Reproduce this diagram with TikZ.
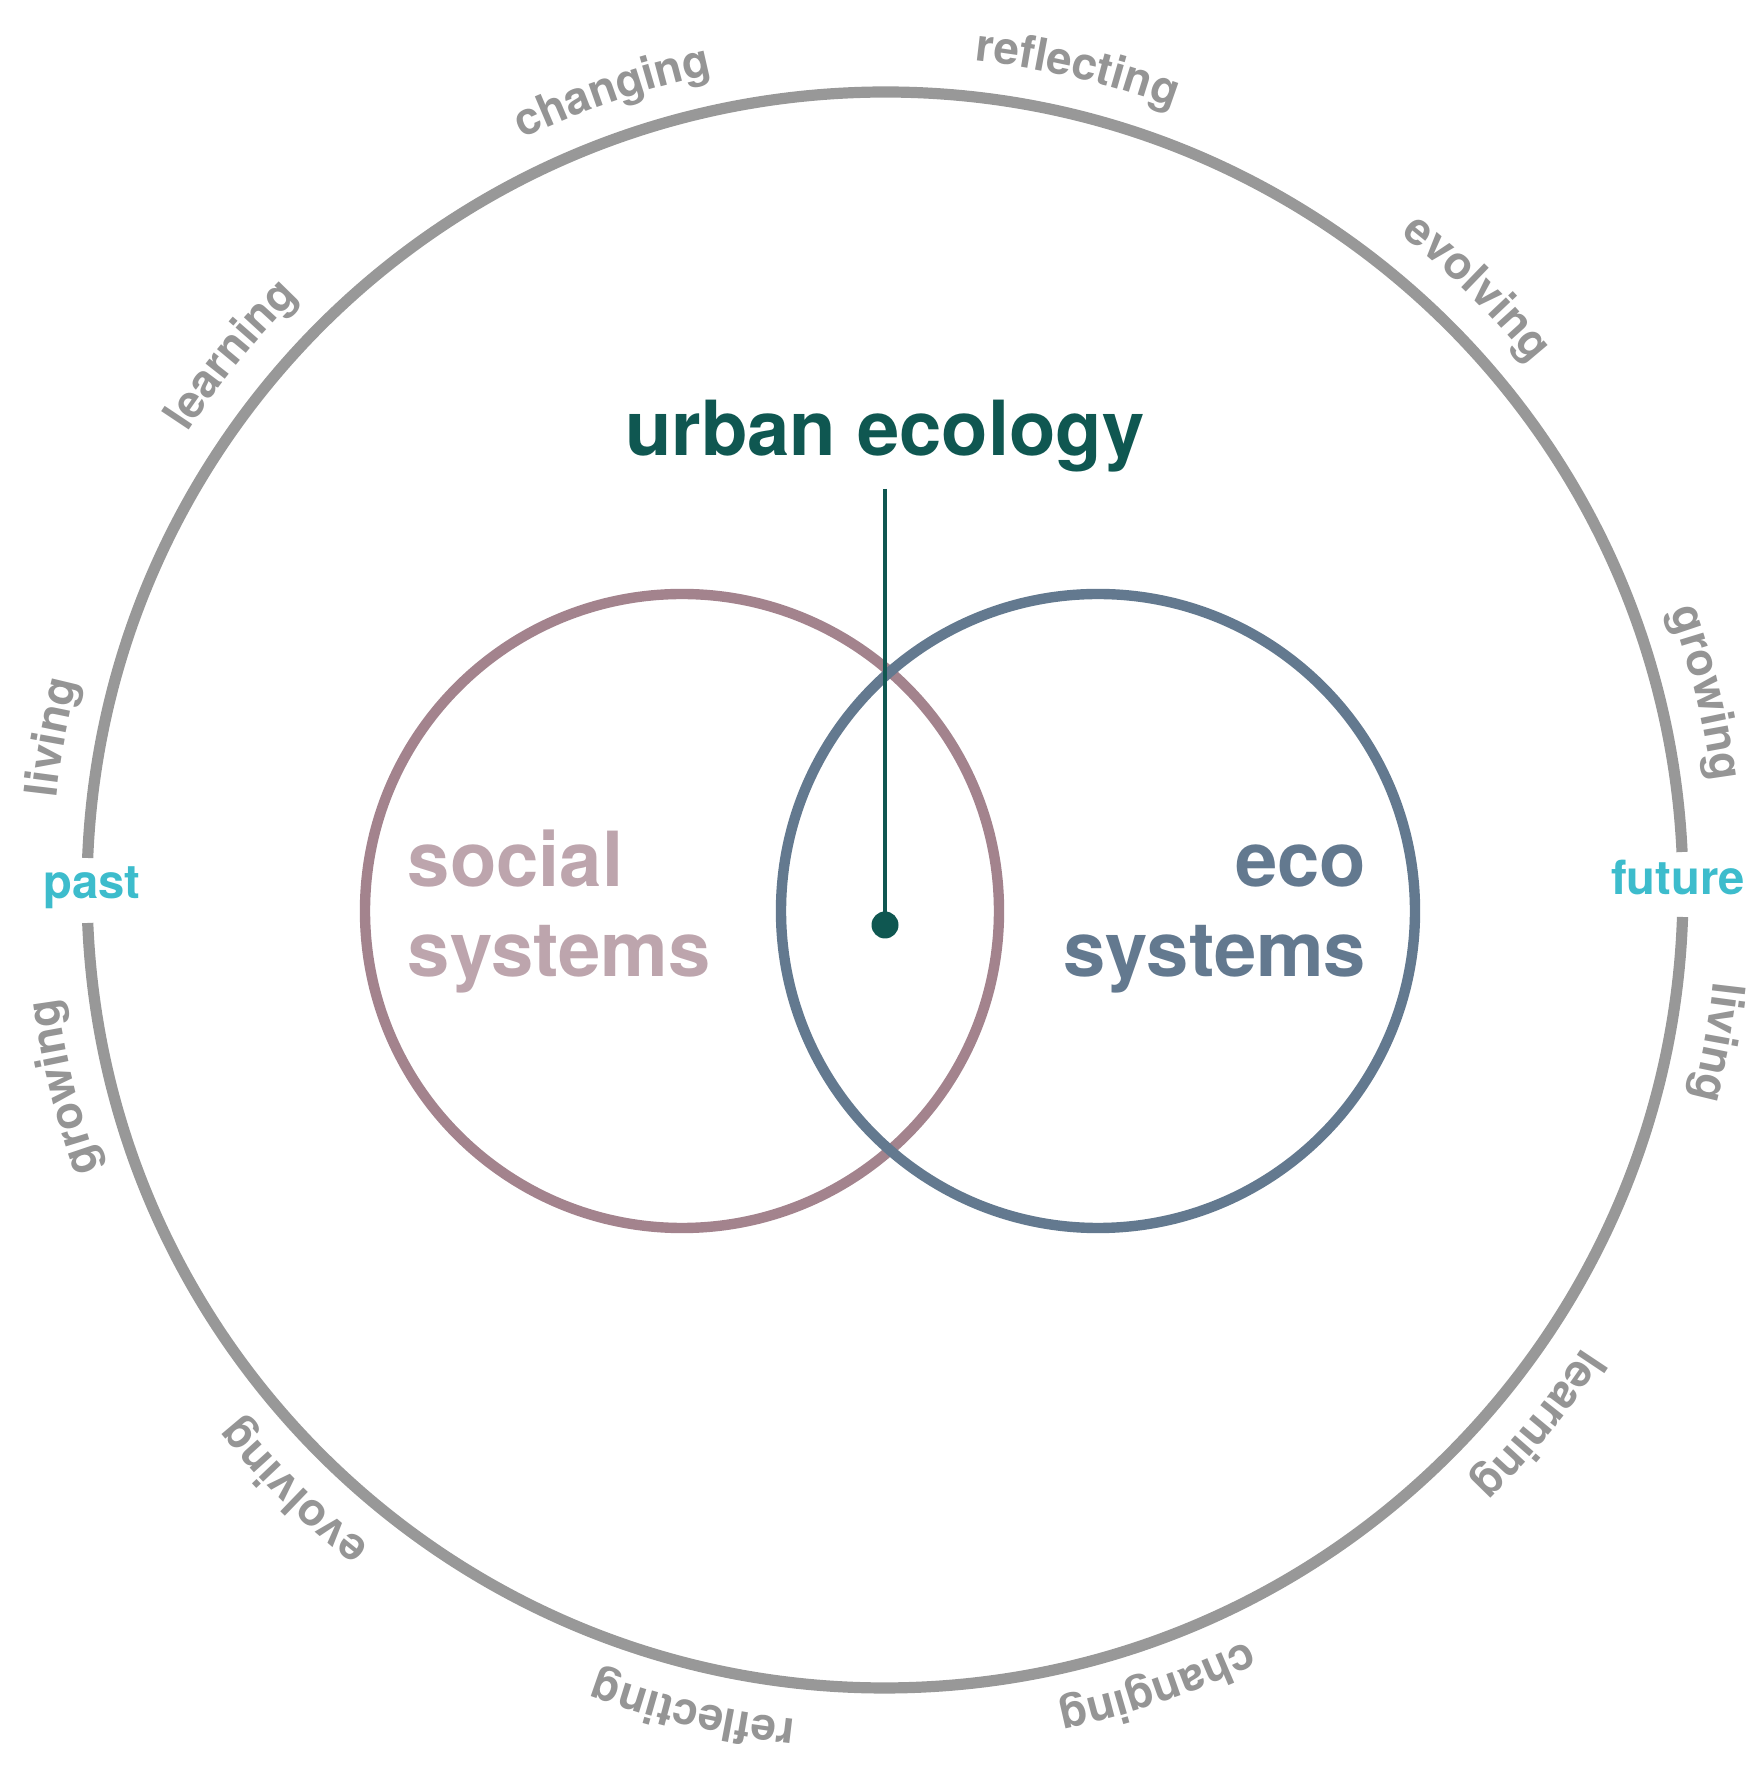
\documentclass[tikz,border=0pt]{standalone}
\usepackage{fontspec}
\setmainfont{TeX Gyre Heros}
\usetikzlibrary{decorations.text}

\definecolor{ringgray}{HTML}{989898}
\definecolor{wordgray}{HTML}{959595}
\definecolor{timecyan}{HTML}{3DBCCC}
\definecolor{socialring}{HTML}{A3838D}
\definecolor{socialtext}{HTML}{BDA5AD}
\definecolor{ecoring}{HTML}{63798F}
\definecolor{ecotext}{HTML}{63798F}
\definecolor{urbangreen}{HTML}{0F5751}

\newcommand{\cyclefont}{\fontsize{22.7pt}{27pt}\selectfont\bfseries\color{wordgray}}

\begin{document}
\begin{tikzpicture}[x=0.5pt,y=0.5pt,
  ring/.style={draw=ringgray, line width=5.6pt},
  setring/.style={line width=5.2pt},
  bigword/.style={font=\fontsize{38pt}{45pt}\selectfont\bfseries, inner sep=0pt},
  timeword/.style={font=\fontsize{23.6pt}{28pt}\selectfont\bfseries, text=timecyan, inner sep=0pt, anchor=base},
  cycleword/.style={decoration={text along path, text={|\cyclefont|#1}, text align=center}, decorate}
]
\useasboundingbox (-885,-885) rectangle (879,890);

% outer ring, open where "past" and "future" sit
\draw[ring] (2.73:798) arc[start angle=2.73, end angle=177.7, radius=798];
\draw[ring] (182.37:798) arc[start angle=182.37, end angle=358.06, radius=798];

% words running clockwise around the ring
\path[cycleword={living}]     (191.6:834) arc[start angle=191.6, end angle=147.6, radius=834];
\path[cycleword={learning}]   (162.7:834) arc[start angle=162.7, end angle=118.7, radius=834];
\path[cycleword={changing}]   (130.85:834) arc[start angle=130.85, end angle=86.85, radius=834];
\path[cycleword={reflecting}] (98.8:834) arc[start angle=98.8, end angle=54.8, radius=834];
\path[cycleword={evolving}]   (67.5:834) arc[start angle=67.5, end angle=23.5, radius=834];
\path[cycleword={growing}]    (35.5:834) arc[start angle=35.5, end angle=-8.5, radius=834];
\path[cycleword={living}]     (11.6:834) arc[start angle=11.6, end angle=-32.4, radius=834];
\path[cycleword={learning}]   (-17.3:834) arc[start angle=-17.3, end angle=-61.3, radius=834];
\path[cycleword={changing}]   (-49.15:834) arc[start angle=-49.15, end angle=-93.15, radius=834];
\path[cycleword={reflecting}] (-81.2:834) arc[start angle=-81.2, end angle=-125.2, radius=834];
\path[cycleword={evolving}]   (-112.5:834) arc[start angle=-112.5, end angle=-156.5, radius=834];
\path[cycleword={growing}]    (-144.5:834) arc[start angle=-144.5, end angle=-188.5, radius=834];

% time markers in the ring's openings
\node[timeword] (past) at (-793,-9) {past};
\node[timeword] (future) at (793,-5) {future};

% the two overlapping systems
\draw[draw=socialring, setring] (-203,-21) circle[radius=317];
\draw[draw=ecoring, setring] (213,-21) circle[radius=317];

\node[bigword, text=socialtext, anchor=base west] (social1) at (-477.5,3) {social};
\node[bigword, text=socialtext, anchor=base west] (social2) at (-477.5,-87) {systems};
\node[bigword, text=ecotext, anchor=base east] (eco1) at (481.5,3) {eco};
\node[bigword, text=ecotext, anchor=base east] (eco2) at (481.5,-87) {systems};

% title and its pointer into the overlap
\node[bigword, text=urbangreen, anchor=base] (title) at (0,434) {urban ecology};
\coordinate (stemtop) at (0,401);
\node[circle, fill=urbangreen, minimum size=13.5pt, inner sep=0pt] (hub) at (0,-35) {};
\draw[urbangreen, line width=2pt] (stemtop) -- (hub.center);
\end{tikzpicture}
\end{document}
